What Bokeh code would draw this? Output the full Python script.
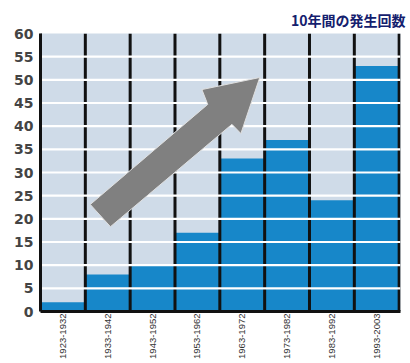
import math
from bokeh.plotting import figure
from bokeh.models import ColumnDataSource, FixedTicker, Range1d
from bokeh.embed import file_html
from bokeh.resources import INLINE

# ---- data ----
periods = ["1923-1932", "1933-1942", "1943-1952", "1953-1962",
           "1963-1972", "1973-1982", "1983-1992", "1993-2003"]
counts = [2, 8, 10, 17, 33, 37, 24, 53]
y_ticks = [0, 5, 10, 15, 20, 25, 30, 35, 40, 45, 50, 55, 60]
title_text = "10年間の発生回数"

# decorative arrow outline (data units)
arrow_x = [1.11, 3.73, 3.60, 4.89, 4.47, 4.27, 1.56]
arrow_y = [23.1, 44.7, 47.9, 50.5, 38.4, 40.4, 18.3]

n = len(periods)
centers = [i + 0.5 for i in range(n)]
bounds = list(range(n + 1))
XMAX = n + 0.03

BG = "#cfdbe8"
BAR = "#1787c9"

p = figure(width=410, height=363, output_backend="svg", toolbar_location=None,
           x_range=Range1d(0, XMAX), y_range=Range1d(0, 60),
           min_border_left=40, min_border_right=10, min_border_top=33,
           min_border_bottom=52, title=title_text)
p.background_fill_color = BG
p.border_fill_color = "white"
p.outline_line_color = None
p.xgrid.visible = False
p.ygrid.visible = False

p.title.align = "right"
p.title.text_font = "Noto Sans CJK JP"
p.title.text_font_style = "bold"
p.title.text_font_size = "14px"
p.title.text_color = "#14206e"
p.title.offset = -5
p.title.standoff = 8

src = ColumnDataSource(dict(x=centers, top=counts))
p.vbar(x="x", top="top", width=1.0, source=src, fill_color=BAR, line_color=None)

# black separators
p.segment(x0=bounds, y0=[0] * len(bounds), x1=bounds, y1=[60] * len(bounds),
          line_color="#111111", line_width=3)

# white horizontal gridlines
gl = [t for t in y_ticks if 0 < t < 60]
p.segment(x0=[0] * len(gl), y0=gl, x1=[XMAX] * len(gl), y1=gl,
          line_color="white", line_width=2.2)

# arrow
p.patch(arrow_x, arrow_y, fill_color="#808080", line_color="#e0e0e0", line_width=1)

# axes
p.yaxis.ticker = FixedTicker(ticks=y_ticks)
p.yaxis.axis_line_color = "#111111"
p.yaxis.axis_line_width = 3
p.yaxis.major_tick_line_color = None
p.yaxis.minor_tick_line_color = None
p.yaxis.major_tick_in = 0
p.yaxis.major_tick_out = 0
p.yaxis.major_label_standoff = 7
p.yaxis.major_label_text_font = "DejaVu Sans"
p.yaxis.major_label_text_font_style = "bold"
p.yaxis.major_label_text_font_size = "14px"
p.yaxis.major_label_text_color = "#444444"

p.xaxis.ticker = FixedTicker(ticks=centers)
p.xaxis.major_label_overrides = {c: lab for c, lab in zip(centers, periods)}
p.xaxis.major_label_orientation = math.pi / 2
p.xaxis.axis_line_color = "#111111"
p.xaxis.axis_line_width = 3
p.xaxis.major_tick_line_color = None
p.xaxis.minor_tick_line_color = None
p.xaxis.major_tick_in = 0
p.xaxis.major_tick_out = 0
p.xaxis.major_label_standoff = 2
p.xaxis.major_label_text_font = "Liberation Sans"
p.xaxis.major_label_text_font_size = "9.5px"
p.xaxis.major_label_text_color = "#333333"

open("out.html", "w").write(file_html(p, INLINE))
